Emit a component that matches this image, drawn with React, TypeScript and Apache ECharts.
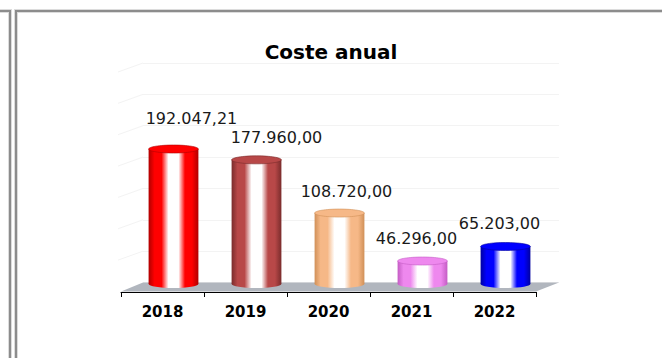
import React, { useEffect, useRef } from 'react';
import * as echarts from 'echarts';

const chartTitle = 'Coste anual';
const categories = ['2018', '2019', '2020', '2021', '2022'];
const values = [192047.21, 177960.0, 108720.0, 46296.0, 65203.0];
const baseColors = ['#ff0000', '#b84848', '#f6b887', '#ee88ee', '#0000ff'];
const edgeColors = ['#b00000', '#7a2c2c', '#d09058', '#c45cc4', '#0000a0'];
const labelDx = [18, 20, 7, -6, -6];
const labelDy = [26.5, 18.5, 17.5, 18.5, 18.5];
const wallSteps = 7;

const W = 662;
const H = 358;
const AXIS_Y = 292;
const AXIS_L = 121;
const AXIS_R = 536;
const DEPTH_X = 22;
const DEPTH_Y = 9;
const WALL_TOP = 63;
const BAR_SHIFT = 11;
const ZERO_Y = 296.6;
const BASE_LIFT = 12.6;
const RY = 4;
const FONT = '"DejaVu Sans", sans-serif';

function fmt(v: number): string {
  const [i, d] = v.toFixed(2).split('.');
  return i.replace(/\B(?=(\d{3})+(?!\d))/g, '.') + ',' + d;
}

function bodyGradient(i: number) {
  const b = baseColors[i];
  const e = edgeColors[i];
  return new echarts.graphic.LinearGradient(0, 0, 1, 0, [
    { offset: 0, color: e },
    { offset: 0.12, color: b },
    { offset: 0.26, color: b },
    { offset: 0.4, color: '#ffffff' },
    { offset: 0.6, color: '#ffffff' },
    { offset: 0.73, color: b },
    { offset: 0.87, color: b },
    { offset: 1, color: e },
  ]);
}

export default function App() {
  const ref = useRef<HTMLDivElement>(null);
  useEffect(() => {
    if (!ref.current) return;
    const chart = echarts.init(ref.current, null, { renderer: 'svg' });
    const wallBack = AXIS_Y - DEPTH_Y - 0.5;
    const step = (wallBack - WALL_TOP) / wallSteps;
    const sideLines: any[] = [];
    for (let k = 0; k < wallSteps; k++) {
      const y = WALL_TOP + k * step;
      sideLines.push({
        type: 'line',
        z: 0,
        shape: { x1: AXIS_L - 3, y1: y + DEPTH_Y, x2: AXIS_L + DEPTH_X, y2: y },
        style: { stroke: '#f3f3f3', lineWidth: 1 },
      });
    }
    chart.setOption({
      animation: false,
      backgroundColor: '#ffffff',
      title: {
        text: chartTitle,
        left: 'center',
        top: 37,
        textStyle: { fontFamily: FONT, fontWeight: 'bold', fontSize: 20, color: '#000' },
      },
      grid: [
        { left: AXIS_L, right: W - AXIS_R, top: WALL_TOP, bottom: H - AXIS_Y },
        { left: AXIS_L + BAR_SHIFT, right: W - AXIS_R - BAR_SHIFT, top: WALL_TOP, bottom: H - ZERO_Y },
        { left: AXIS_L + DEPTH_X, right: W - AXIS_R - DEPTH_X - 1, top: WALL_TOP, bottom: H - wallBack },
      ],
      xAxis: [
        {
          type: 'category',
          gridIndex: 0,
          data: categories,
          axisLine: { show: true, lineStyle: { color: '#000', width: 1 } },
          axisTick: { show: true, length: 5, lineStyle: { color: '#000' } },
          axisLabel: { fontFamily: FONT, fontWeight: 'bold', fontSize: 15, color: '#000', margin: 12 },
          z: 4,
        },
        { type: 'category', gridIndex: 1, data: categories, show: false },
        { type: 'value', gridIndex: 2, min: 0, max: 1, show: false },
      ],
      yAxis: [
        { type: 'value', gridIndex: 0, show: false },
        { type: 'value', gridIndex: 1, min: 0, max: 304000, show: false },
        {
          type: 'value',
          gridIndex: 2,
          min: 0,
          max: wallSteps,
          interval: 1,
          axisLine: { show: false },
          axisTick: { show: false },
          axisLabel: { show: false },
          splitLine: { show: true, lineStyle: { color: '#f3f3f3', width: 1 } },
        },
      ],
      graphic: [
        {
          type: 'rect',
          z: 0,
          shape: { x: -10, y: 11, width: 20, height: 400 },
          style: { fill: 'none', stroke: '#dcdcdc', lineWidth: 4 },
        },
        {
          type: 'rect',
          z: 0,
          shape: { x: -10, y: 11, width: 20, height: 400 },
          style: { fill: 'none', stroke: '#8c8c8c', lineWidth: 2 },
        },
        {
          type: 'rect',
          z: 0,
          shape: { x: 16, y: 11, width: 700, height: 400 },
          style: { fill: 'none', stroke: '#dcdcdc', lineWidth: 4 },
        },
        {
          type: 'rect',
          z: 0,
          shape: { x: 16, y: 11, width: 700, height: 400 },
          style: { fill: 'none', stroke: '#8c8c8c', lineWidth: 2 },
        },
        ...sideLines,
        {
          type: 'polygon',
          z: 1,
          shape: {
            points: [
              [AXIS_L, AXIS_Y - 0.5],
              [AXIS_R, AXIS_Y - 0.5],
              [AXIS_R + DEPTH_X + 1, wallBack],
              [AXIS_L + DEPTH_X, wallBack],
            ],
          },
          style: { fill: '#b1b6be' },
        },
      ],
      series: [
        {
          type: 'custom',
          xAxisIndex: 1,
          yAxisIndex: 1,
          z: 5,
          data: values.map((v, i) => [i, v]),
          renderItem: (params: any, api: any) => {
            const i = api.value(0);
            const v = api.value(1);
            const top = api.coord([i, v]);
            const zero = api.coord([i, 0]);
            const band = api.size([1, 0])[0];
            const rx = (band * 0.6) / 2;
            const cx = top[0];
            const topY = top[1];
            const baseY = zero[1] - BASE_LIFT;
            return {
              type: 'group',
              children: [
                {
                  type: 'ellipse',
                  shape: { cx, cy: baseY, rx, ry: RY },
                  style: { fill: bodyGradient(i) },
                },
                {
                  type: 'rect',
                  shape: { x: cx - rx, y: topY, width: rx * 2, height: baseY - topY },
                  style: { fill: bodyGradient(i) },
                },
                {
                  type: 'ellipse',
                  shape: { cx, cy: topY, rx, ry: RY },
                  style: { fill: baseColors[i], stroke: edgeColors[i], lineWidth: 0.6 },
                },
                {
                  type: 'text',
                  style: {
                    text: fmt(v),
                    x: cx + labelDx[i],
                    y: topY - RY - labelDy[i],
                    align: 'center',
                    verticalAlign: 'middle',
                    font: `16px ${FONT}`,
                    fill: '#1a1a1a',
                  },
                },
              ],
            };
          },
        },
      ],
    });
    return () => chart.dispose();
  }, []);
  return (
    <div
      ref={ref}
      style={{ position: 'fixed', left: 0, top: 0, width: W, height: H, background: '#fff' }}
    />
  );
}
